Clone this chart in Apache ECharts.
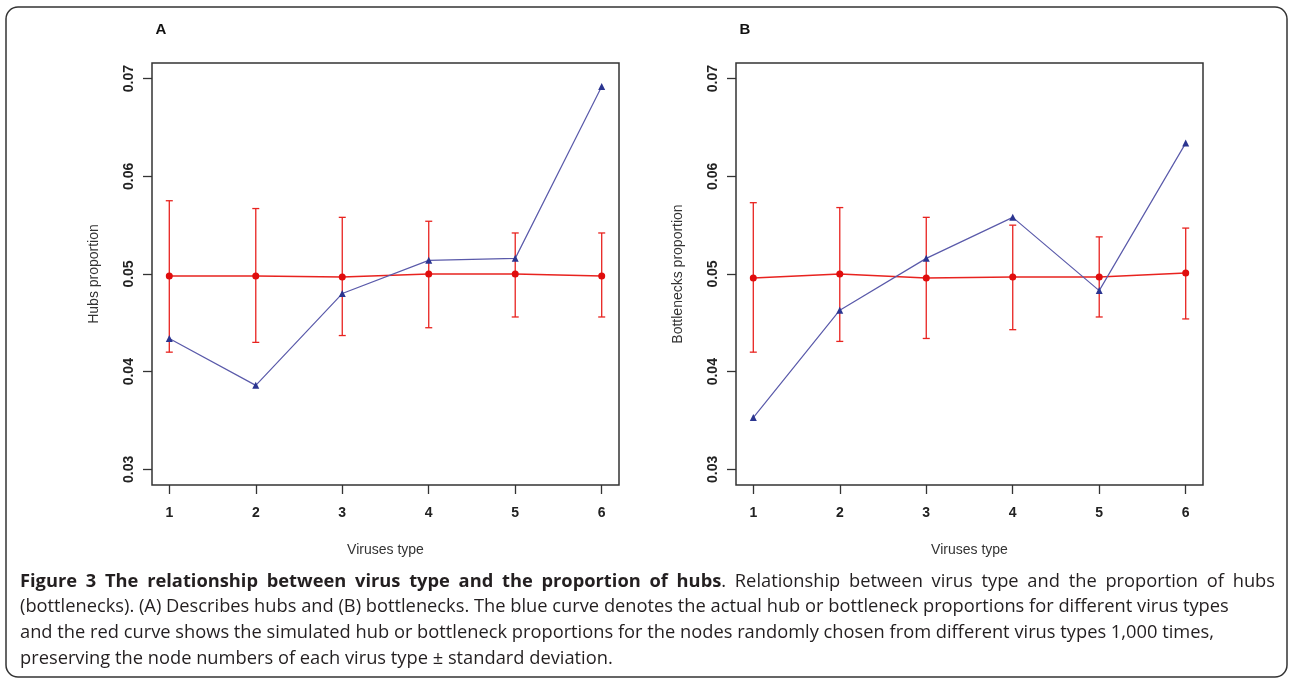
<!DOCTYPE html>
<html>
<head>
<meta charset="utf-8">
<script src="https://cdn.jsdelivr.net/npm/echarts@6/dist/echarts.min.js"></script>
<style>
html,body{margin:0;padding:0;background:#fff;}
#c{width:1289px;height:681px;}
</style>
</head>
<body>
<div id="c"></div>
<script>
// ---- data ----
const virusTypes = [1, 2, 3, 4, 5, 6];
const xTicks = [1, 2, 3, 4, 5, 6];
const yTicks = [0.03, 0.04, 0.05, 0.06, 0.07];

// Panel A: hubs
const hubsActual = [0.0434, 0.0386, 0.0480, 0.0514, 0.0516, 0.0692];
const hubsSimMean = [0.0498, 0.0498, 0.0497, 0.0500, 0.0500, 0.0498];
const hubsSimLow = [0.0420, 0.0430, 0.0437, 0.0445, 0.0456, 0.0456];
const hubsSimHigh = [0.0575, 0.0567, 0.0558, 0.0554, 0.0542, 0.0542];

// Panel B: bottlenecks
const bnActual = [0.0353, 0.0463, 0.0516, 0.0558, 0.0483, 0.0634];
const bnSimMean = [0.0496, 0.0500, 0.0496, 0.0497, 0.0497, 0.0501];
const bnSimLow = [0.0420, 0.0431, 0.0434, 0.0443, 0.0456, 0.0454];
const bnSimHigh = [0.0573, 0.0568, 0.0558, 0.0550, 0.0538, 0.0547];

const panelLabels = ['A', 'B'];
const yNames = ['Hubs proportion', 'Bottlenecks proportion'];
const xName = 'Viruses type';

const captionBold = 'Figure 3 The relationship between virus type and the proportion of hubs';
const captionLines = [
  '. Relationship between virus type and the proportion of hubs',
  '(bottlenecks). (A) Describes hubs and (B) bottlenecks. The blue curve denotes the actual hub or bottleneck proportions for different virus types',
  'and the red curve shows the simulated hub or bottleneck proportions for the nodes randomly chosen from different virus types 1,000 times,',
  'preserving the node numbers of each virus type \u00b1 standard deviation.'
];

// ---- chart ----
const chart = echarts.init(document.getElementById('c'), null, {renderer: 'canvas'});
const AX = '#333';
const RED = '#e8231f';
const BLUE = '#5a5aaa';
const BLUE_PT = '#2b3590';
const FONT = 'Liberation Sans';

const grids = [
  {left: 152, top: 63, width: 467, height: 422},
  {left: 736, top: 63, width: 467, height: 422}
];

function xAxis(i) {
  return {
    type: 'value', gridIndex: i, min: 0.8, max: 6.2,
    name: xName, nameLocation: 'middle', nameGap: 58,
    nameTextStyle: {fontFamily: FONT, fontSize: 14, color: '#333'},
    axisLine: {show: false},
    axisTick: {show: true, inside: false, length: 9, customValues: xTicks, lineStyle: {color: AX, width: 1.3}},
    axisLabel: {customValues: xTicks, margin: 21, fontFamily: FONT, fontSize: 14, fontWeight: 'bold', color: '#222'},
    splitLine: {show: false}
  };
}
function yAxis(i) {
  return {
    type: 'value', gridIndex: i, min: 0.0284, max: 0.0716,
    name: yNames[i], nameLocation: 'middle', nameGap: 51, nameRotate: 90,
    nameTextStyle: {fontFamily: FONT, fontSize: 14, color: '#333'},
    axisLine: {show: false},
    axisTick: {show: true, inside: false, length: 9, customValues: yTicks, lineStyle: {color: AX, width: 1.3}},
    axisLabel: {customValues: yTicks, rotate: 90, margin: 16, fontFamily: FONT, fontSize: 14, fontWeight: 'bold', color: '#222',
      formatter: v => v.toFixed(2)},
    splitLine: {show: false}
  };
}

function errorBars(i, low, high) {
  return {
    type: 'custom', xAxisIndex: i, yAxisIndex: i, z: 3,
    data: virusTypes.map((x, k) => [x, low[k], high[k]]),
    renderItem: function (params, api) {
      const lo = api.coord([api.value(0), api.value(1)]);
      const hi = api.coord([api.value(0), api.value(2)]);
      const w = 3.5;
      const style = {stroke: RED, lineWidth: 1.3};
      return {
        type: 'group',
        children: [
          {type: 'line', shape: {x1: lo[0], y1: lo[1], x2: hi[0], y2: hi[1]}, style},
          {type: 'line', shape: {x1: lo[0] - w, y1: lo[1], x2: lo[0] + w, y2: lo[1]}, style},
          {type: 'line', shape: {x1: hi[0] - w, y1: hi[1], x2: hi[0] + w, y2: hi[1]}, style}
        ]
      };
    }
  };
}
function simLine(i, mean) {
  return {
    type: 'line', xAxisIndex: i, yAxisIndex: i, z: 4,
    data: virusTypes.map((x, k) => [x, mean[k]]),
    symbol: 'circle', symbolSize: 7,
    lineStyle: {color: RED, width: 1.5},
    itemStyle: {color: '#e00d0d'},
    animation: false
  };
}
function actualLine(i, vals) {
  return {
    type: 'line', xAxisIndex: i, yAxisIndex: i, z: 5,
    data: virusTypes.map((x, k) => [x, vals[k]]),
    symbol: 'triangle', symbolSize: 7,
    lineStyle: {color: BLUE, width: 1.2},
    itemStyle: {color: BLUE_PT},
    animation: false
  };
}

const capFont = '"Open Sans", "Noto Sans", sans-serif';
const capSize = 18.3;
const capColor = '#231f20';
const capY = [582, 607, 633, 659];
const capLeft = 20, capRight = 1275;

// justify first caption line (bold + normal run) across the full width
const measureCtx = document.createElement('canvas').getContext('2d');
function textW(t, bold) {
  measureCtx.font = (bold ? 'bold ' : '') + capSize + 'px ' + capFont;
  return measureCtx.measureText(t).width;
}
const tokens = [];
captionBold.split(' ').forEach(w => tokens.push({t: w, bold: true, glue: false}));
const firstNormal = captionLines[0];
const dotPart = firstNormal.charAt(0);
tokens.push({t: dotPart, bold: false, glue: true});
firstNormal.slice(1).trim().split(' ').forEach(w => tokens.push({t: w, bold: false, glue: false}));
let natural = 0, gaps = 0;
tokens.forEach((tk, k) => {
  tk.w = textW(tk.t, tk.bold);
  natural += tk.w;
  if (k > 0 && !tk.glue) gaps++;
});
const gapW = (capRight - capLeft - natural) / gaps;
const graphics = [
  {type: 'rect', shape: {x: 6, y: 7, width: 1281, height: 670, r: 12},
   style: {fill: 'none', stroke: '#333', lineWidth: 1.5}, silent: true},
  {type: 'text', x: 161, y: 30, style: {text: panelLabels[0], font: 'bold 15px ' + FONT, fill: '#111', align: 'center', verticalAlign: 'middle'}},
  {type: 'text', x: 745, y: 30, style: {text: panelLabels[1], font: 'bold 15px ' + FONT, fill: '#111', align: 'center', verticalAlign: 'middle'}}
];
let cx = capLeft;
tokens.forEach((tk, k) => {
  if (k > 0 && !tk.glue) cx += gapW;
  graphics.push({type: 'text', x: cx, y: capY[0],
    style: {text: tk.t, font: (tk.bold ? 'bold ' : '') + capSize + 'px ' + capFont, fill: capColor, verticalAlign: 'middle'}});
  cx += tk.w;
});
for (let i = 1; i < captionLines.length; i++) {
  graphics.push({type: 'text', x: capLeft, y: capY[i],
    style: {text: captionLines[i], font: capSize + 'px ' + capFont, fill: capColor, verticalAlign: 'middle'}});
}

chart.setOption({
  backgroundColor: '#fff',
  animation: false,
  grid: grids.map(g => Object.assign({show: true, borderColor: AX, borderWidth: 1.5, backgroundColor: 'transparent'}, g)),
  xAxis: [xAxis(0), xAxis(1)],
  yAxis: [yAxis(0), yAxis(1)],
  series: [
    errorBars(0, hubsSimLow, hubsSimHigh),
    simLine(0, hubsSimMean),
    actualLine(0, hubsActual),
    errorBars(1, bnSimLow, bnSimHigh),
    simLine(1, bnSimMean),
    actualLine(1, bnActual)
  ],
  graphic: graphics
});
</script>
</body>
</html>
